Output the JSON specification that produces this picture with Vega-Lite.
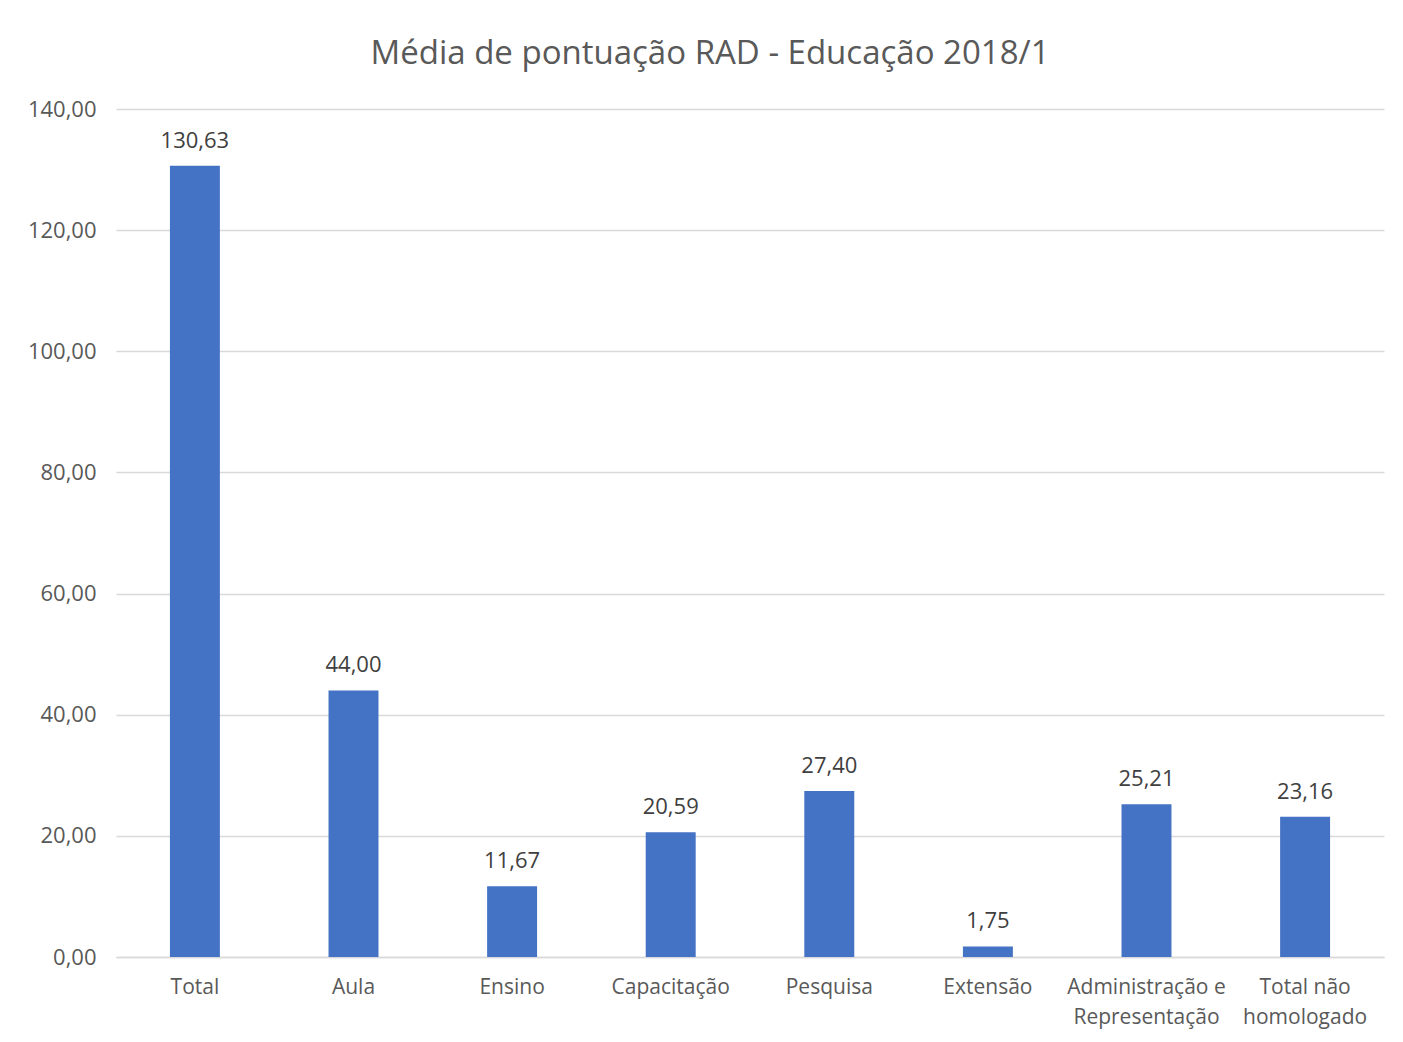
{
  "$schema": "https://vega.github.io/schema/vega-lite/v6.json",
  "autosize": "none",
  "width": 1268,
  "height": 848,
  "padding": {"left": 116, "top": 109, "right": 19, "bottom": 85},
  "background": "white",
  "config": {
    "font": "Open Sans",
    "view": {"stroke": null},
    "locale": {"number": {"decimal": ",", "thousands": ".", "grouping": [3], "currency": ["R$", ""]}}
  },
  "title": {
    "text": "Média de pontuação RAD - Educação 2018/1",
    "fontSize": 33,
    "fontWeight": "normal",
    "color": "#595959",
    "anchor": "middle",
    "dx": -40,
    "offset": 27
  },
  "data": {
    "values": [
      {"categoria": "Total", "valor": 130.63},
      {"categoria": "Aula", "valor": 44.00},
      {"categoria": "Ensino", "valor": 11.67},
      {"categoria": "Capacitação", "valor": 20.59},
      {"categoria": "Pesquisa", "valor": 27.40},
      {"categoria": "Extensão", "valor": 1.75},
      {"categoria": "Administração e Representação", "valor": 25.21},
      {"categoria": "Total não homologado", "valor": 23.16}
    ]
  },
  "encoding": {
    "x": {
      "field": "categoria",
      "type": "nominal",
      "sort": null,
      "scale": {"paddingInner": 0.685, "paddingOuter": 0.34},
      "axis": {
        "title": null,
        "labelAngle": 0,
        "labelFontSize": 21,
        "labelColor": "#595959",
        "labelPadding": 19,
        "labelLineHeight": 30,
        "labelLimit": 0,
        "ticks": false,
        "domainColor": "#D9D9D9",
        "domainWidth": 1.5,
        "labelExpr": "datum.label == 'Administração e Representação' ? ['Administração e', 'Representação'] : datum.label == 'Total não homologado' ? ['Total não', 'homologado'] : datum.label"
      }
    },
    "y": {
      "field": "valor",
      "type": "quantitative",
      "scale": {"domain": [0, 140]},
      "axis": {
        "title": null,
        "values": [0, 20, 40, 60, 80, 100, 120, 140],
        "format": ".2f",
        "labelFontSize": 22,
        "labelColor": "#595959",
        "labelPadding": 20,
        "ticks": false,
        "domain": false,
        "gridColor": "#D9D9D9",
        "gridWidth": 1.5
      }
    }
  },
  "layer": [
    {"mark": {"type": "bar", "color": "#4472C4"}},
    {
      "mark": {"type": "text", "baseline": "bottom", "dy": -13, "fontSize": 22, "color": "#404040"},
      "encoding": {"text": {"field": "valor", "type": "quantitative", "format": ".2f"}}
    }
  ]
}
